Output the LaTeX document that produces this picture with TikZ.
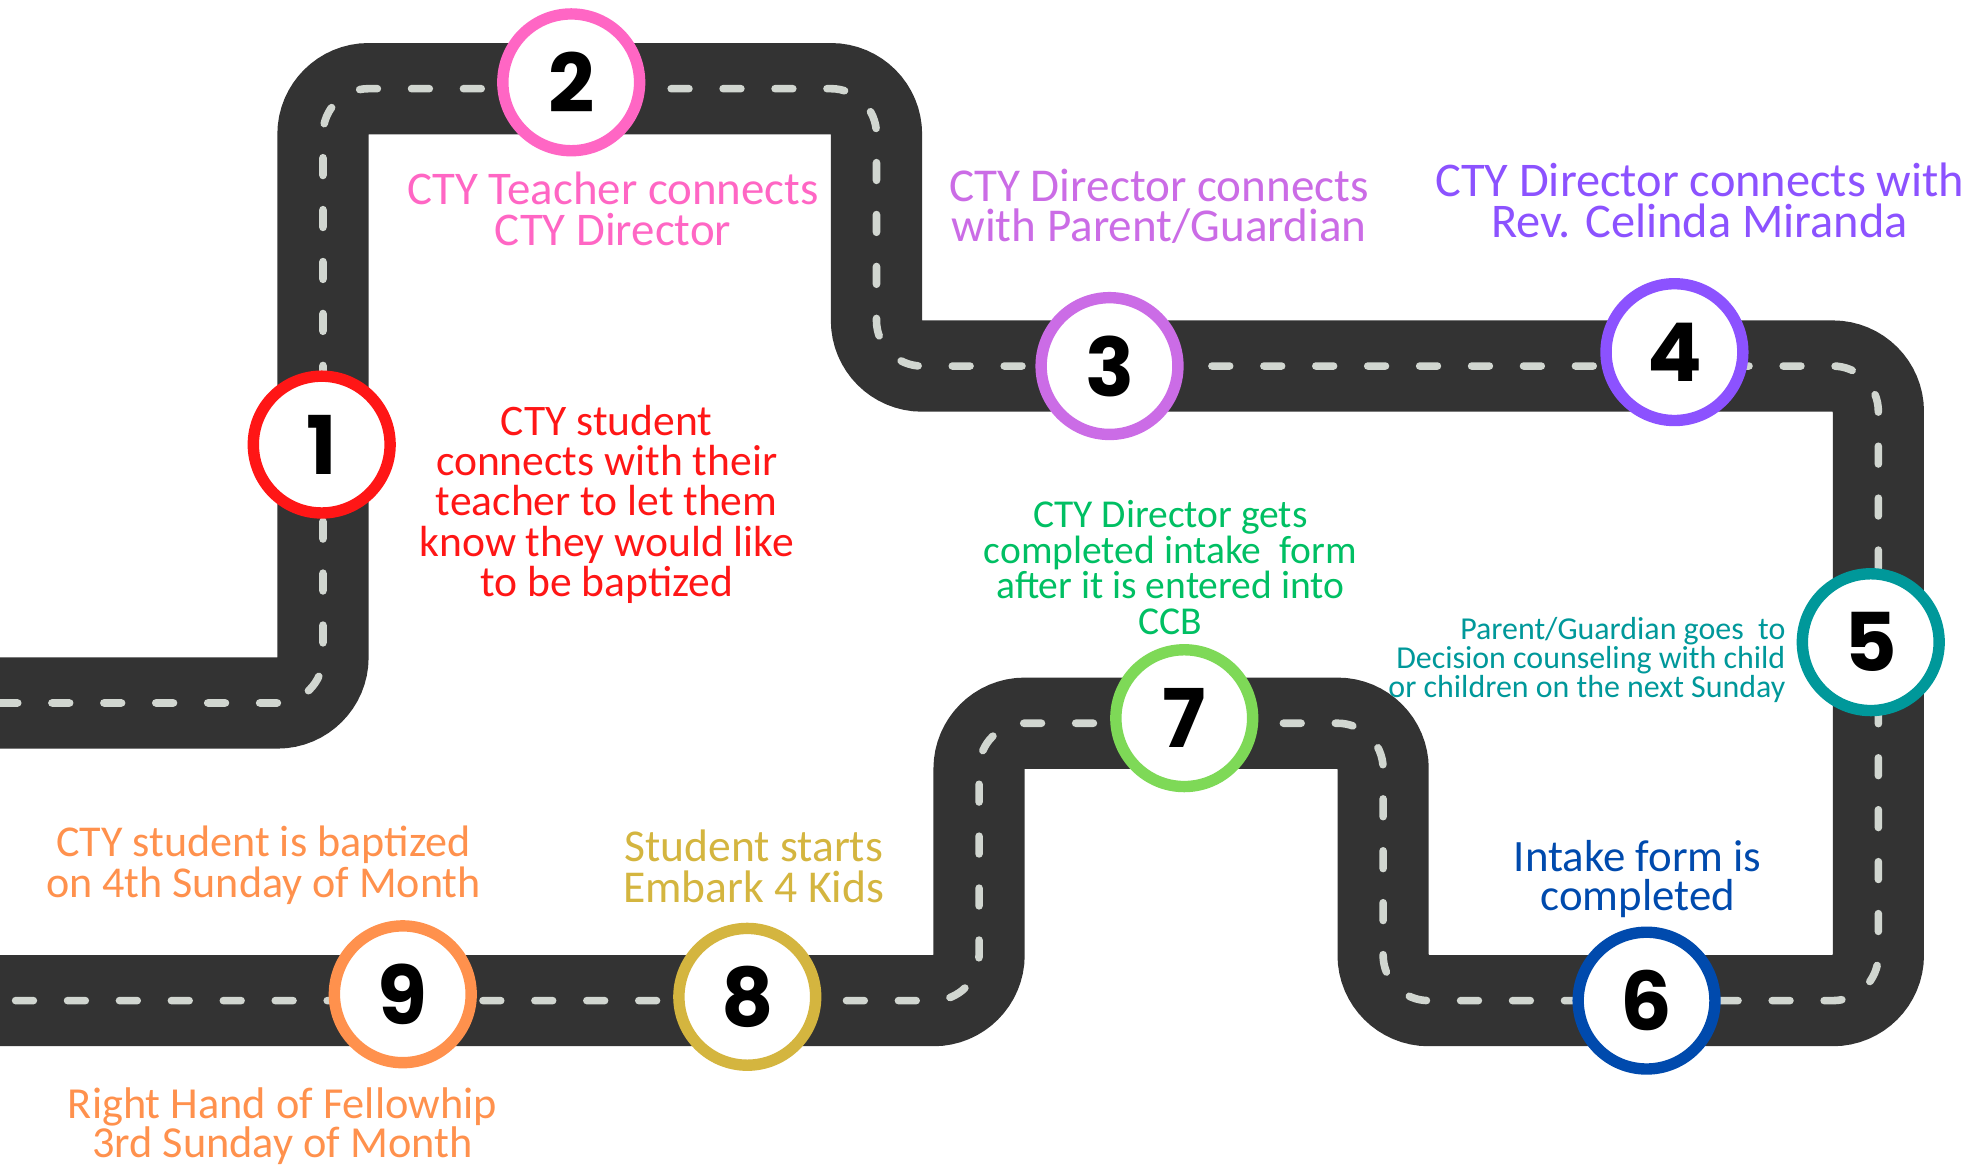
\documentclass[tikz,border=0pt]{standalone}
\usepackage{fontspec}
\setmainfont{Carlito}
\newfontfamily\numfont{Poppins}
\definecolor{roadc}{HTML}{333333}
\definecolor{lanec}{HTML}{D1D6D0}
\definecolor{c1}{HTML}{FF1616}
\definecolor{c2}{HTML}{FF66C4}
\definecolor{c3}{HTML}{CB6CE6}
\definecolor{c4}{HTML}{8C52FF}
\definecolor{c5}{HTML}{00989A}
\definecolor{c6}{HTML}{004AAD}
\definecolor{c7}{HTML}{7ED957}
\definecolor{t7}{HTML}{00BF63}
\definecolor{c8}{HTML}{D4B53F}
\definecolor{c9}{HTML}{FF914D}
\newcommand\fs[2]{\fontsize{#1}{#2}\selectfont}
\begin{document}
\begin{tikzpicture}[x=0.5pt,y=-0.5pt,
  road/.style={line width=36pt, draw=roadc, rounded corners=18pt},
  lane/.style={line width=3pt, draw=lanec, rounded corners=18pt, dash pattern=on 7pt off 13.5pt, line cap=round},
  stop/.style={circle, draw=#1, fill=white, line width=4.5pt, minimum size=54pt, inner sep=0pt, font=\numfont\bfseries\fs{32}{32}},
  lbl/.style={text=#1, align=center, inner sep=0pt}]
\useasboundingbox (0,0) rectangle (1568,922);
% road
\coordinate (s) at (-10,555);
\coordinate (e) at (-10,790);
\draw[road] (s) -- (255,555) -- (255,70) -- (692,70) -- (692,289) -- (1483,289) -- (1483,790) -- (1092,790) -- (1092,571) -- (773,571) -- (773,790) -- (e);
\draw[lane] (0,555) -- (255,555) -- (255,70) -- (692,70) -- (692,289) -- (1483,289) -- (1483,790) -- (1092,790) -- (1092,571) -- (773,571) -- (773,790) -- (0,790);
% stops
\node[stop=c1] (n1) at (254,351) {1};
\node[stop=c2] (n2) at (451,65) {2};
\node[stop=c3] (n3) at (876,289) {3};
\node[stop=c4] (n4) at (1322,278) {4};
\node[stop=c5] (n5) at (1477,507) {5};
\node[stop=c6] (n6) at (1300,790) {6};
\node[stop=c7] (n7) at (935,567) {7};
\node[stop=c8] (n8) at (590,787) {8};
\node[stop=c9] (n9) at (318,785) {9};
% labels
\node[lbl=c1, font=\fs{17.2}{15.9}] (l1) at (479,398) {CTY student\\connects with their\\teacher to let them\\know they would like\\to be baptized};
\node[lbl=c2, font=\fs{18.5}{16}] (l2) at (484,165) {CTY Teacher connects\\CTY Director};
\node[lbl=c3, font=\fs{18.6}{16}] (l3) at (915,163) {CTY Director connects\\with Parent/Guardian};
\node[lbl=c4, font=\fs{19.1}{16}] (l4) at (1342,158) {CTY Director connects with\\Rev. Celinda Miranda};
\node[lbl=c5, align=right, anchor=east, font=\fs{12.6}{11.5}] (l5) at (1410,521) {Parent/Guardian goes~ to\\Decision counseling with child\\or children on the next Sunday};
\node[lbl=c6, font=\fs{17.7}{15.5}] (l6) at (1293,694) {Intake form is\\completed};
\node[lbl=t7, font=\fs{15.6}{14}] (l7) at (924,448) {CTY Director gets\\completed intake~ form\\after it is entered into\\CCB};
\node[lbl=c8, font=\fs{18}{16}] (l8) at (595,684) {Student starts\\Embark 4 Kids};
\node[lbl=c9, font=\fs{17.4}{16}] (l9a) at (208,683) {CTY student is baptized\\on 4th Sunday of Month};
\node[lbl=c9, font=\fs{17.5}{15.6}] (l9b) at (223,889) {Right Hand of Fellowhip\\3rd Sunday of Month};
\end{tikzpicture}
\end{document}
